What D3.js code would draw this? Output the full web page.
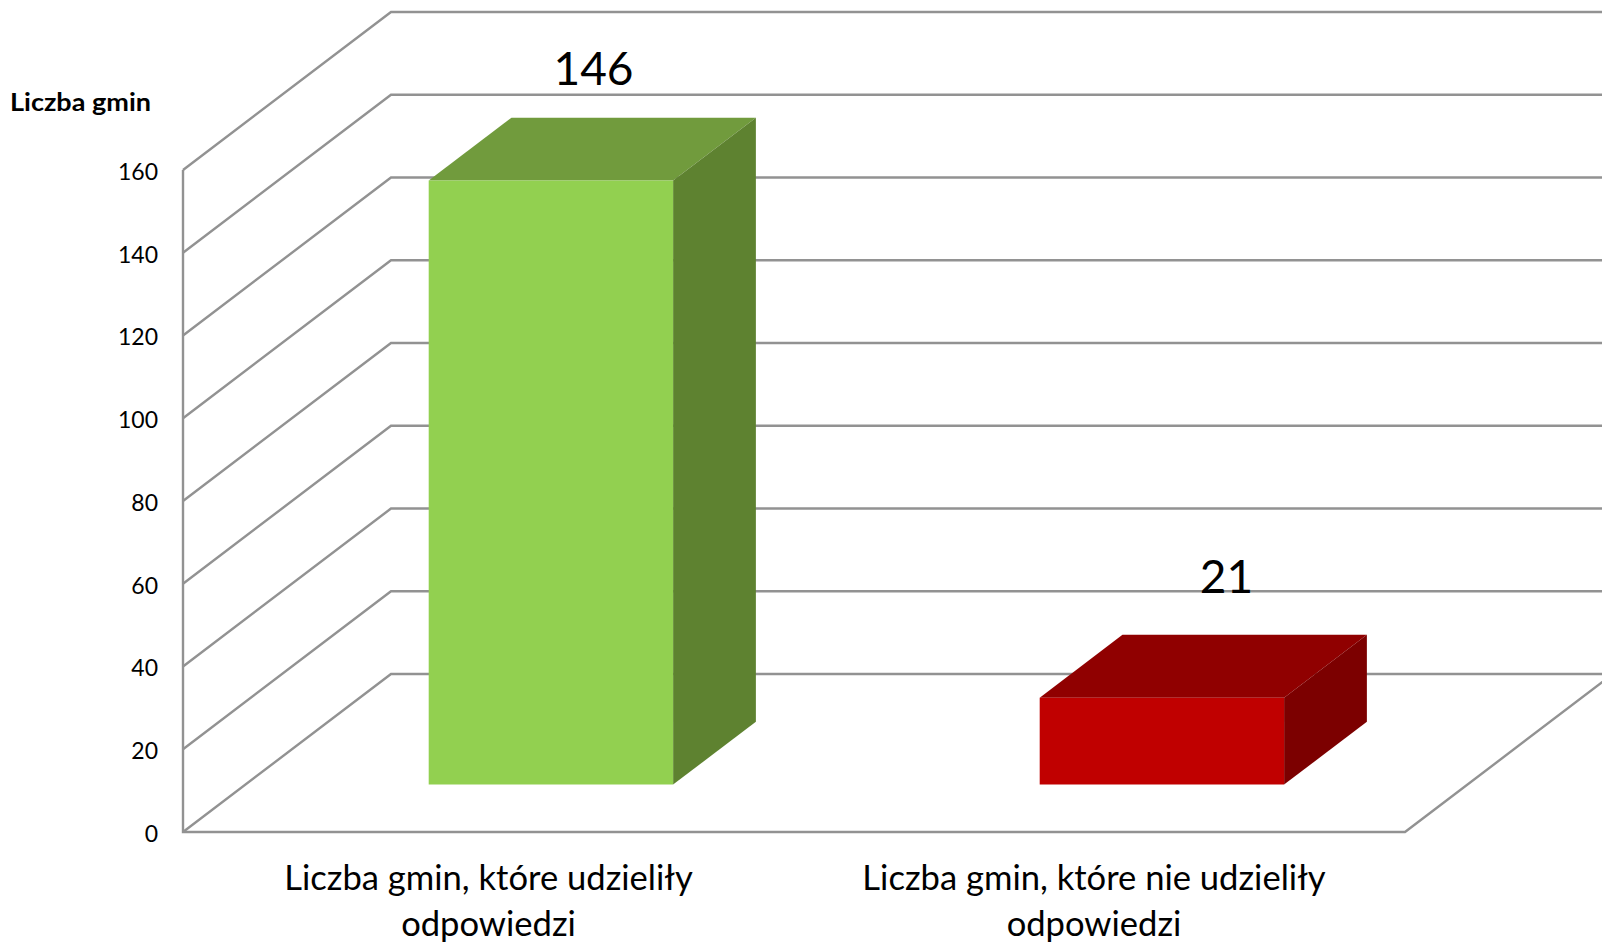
<!DOCTYPE html>
<html>
<head>
<meta charset="utf-8">
<script src="https://cdn.jsdelivr.net/npm/d3@7"></script>
<style>
  html, body { margin: 0; padding: 0; background: #fff; }
  svg { display: block; }
  text { font-family: Lato, "Open Sans", sans-serif; fill: #000; }
  .grid { fill: none; stroke: #929292; stroke-width: 2.4; }
</style>
</head>
<body>
<div id="chart"></div>
<script>
var categories = ["Liczba gmin, które udzieliły", "Liczba gmin, które nie udzieliły"]
var categoryLine2 = ["odpowiedzi", "odpowiedzi"]
var values = [146, 21]
var yTicks = [0, 20, 40, 60, 80, 100, 120, 140, 160]
var frontColors = ["#92d050", "#c00000"]
var topColors = ["#719b3d", "#900000"]
var sideColors = ["#5e8230", "#7c0000"]

var width = 1602, height = 943

var svg = d3.select("#chart").append("svg")
    .attr("width", width)
    .attr("height", height)

var x = d3.scaleBand()
    .domain(d3.range(categories.length))
    .range([183, 1405])
    .paddingInner(0.6)
    .paddingOuter(0.3)

var y = d3.scaleLinear().domain([0, 160]).range([832, 170])

/*depth goes from 0 at the front of the floor to 1 at the back wall*/
var depthX = d3.scaleLinear().domain([0, 1]).range([0, 208])
var depthY = d3.scaleLinear().domain([0, 1]).range([0, -158])

var barFront = 0.3, barBack = 0.698

function project(px, value, depth) {
    return [px + depthX(depth), y(value) + depthY(depth)]
}

var line = d3.line()

// walls and floor
var right = x.range()[1], left = x.range()[0]

svg.selectAll(".wall")
    .data(yTicks)
    .enter().append("path")
    .attr("class", "grid wall")
    .attr("d", function(d) {
        return line([project(left, d, 0), project(left, d, 1), project(right, d, 1)])
    })

svg.append("path")
    .attr("class", "grid")
    .attr("d", line([project(left, 160, 0), project(left, 0, 0), project(right, 0, 0), project(right, 0, 1)]))

// bars
var bars = svg.selectAll(".bar")
    .data(values)
    .enter().append("g")
    .attr("class", "bar")

bars.append("path")
    .attr("fill", function(d, i) { return topColors[i] })
    .attr("d", function(d, i) {
        var x0 = x(i), x1 = x0 + x.bandwidth()
        return line([project(x0, d, barFront), project(x1, d, barFront), project(x1, d, barBack), project(x0, d, barBack)]) + "Z"
    })

bars.append("path")
    .attr("fill", function(d, i) { return sideColors[i] })
    .attr("d", function(d, i) {
        var x1 = x(i) + x.bandwidth()
        return line([project(x1, 0, barFront), project(x1, d, barFront), project(x1, d, barBack), project(x1, 0, barBack)]) + "Z"
    })

bars.append("path")
    .attr("fill", function(d, i) { return frontColors[i] })
    .attr("d", function(d, i) {
        var x0 = x(i), x1 = x0 + x.bandwidth()
        return line([project(x0, 0, barFront), project(x1, 0, barFront), project(x1, d, barFront), project(x0, d, barFront)]) + "Z"
    })

// value labels, the second one was moved by hand in the original
var labelShift = [1, 23], labelGap = [49, 58]

bars.append("text")
    .attr("x", function(d, i) { return x(i) + x.bandwidth() / 2 + depthX(0.5) + labelShift[i] })
    .attr("y", function(d, i) { return project(0, d, barBack)[1] - labelGap[i] })
    .attr("dy", "0.35em")
    .attr("text-anchor", "middle")
    .style("font-size", "46px")
    .text(function(d) { return d })

// y axis
var yAxis = d3.axisLeft(y)
    .tickValues(yTicks)
    .tickSize(0)
    .tickPadding(26)

var yAxisG = svg.append("g")
    .attr("class", "y axis")
    .attr("transform", "translate(184,2)")
    .call(yAxis)

yAxisG.select(".domain").remove()
yAxisG.selectAll("text")
    .style("font-family", "Lato, sans-serif")
    .style("font-size", "23px")

svg.append("text")
    .attr("x", 10)
    .attr("y", 111)
    .style("font-size", "24px")
    .style("font-weight", "bold")
    .attr("textLength", 141)
    .attr("lengthAdjust", "spacingAndGlyphs")
    .text("Liczba gmin")

// category labels
var labelCenter = [488.5, 1094]

svg.selectAll(".cat1")
    .data(categories)
    .enter().append("text")
    .attr("class", "cat1")
    .attr("x", function(d, i) { return labelCenter[i] })
    .attr("y", 890)
    .attr("text-anchor", "middle")
    .style("font-size", "34.6px")
    .text(function(d) { return d })

svg.selectAll(".cat2")
    .data(categoryLine2)
    .enter().append("text")
    .attr("class", "cat2")
    .attr("x", function(d, i) { return labelCenter[i] })
    .attr("y", 936)
    .attr("text-anchor", "middle")
    .style("font-size", "34.6px")
    .text(function(d) { return d })
</script>
</body>
</html>
